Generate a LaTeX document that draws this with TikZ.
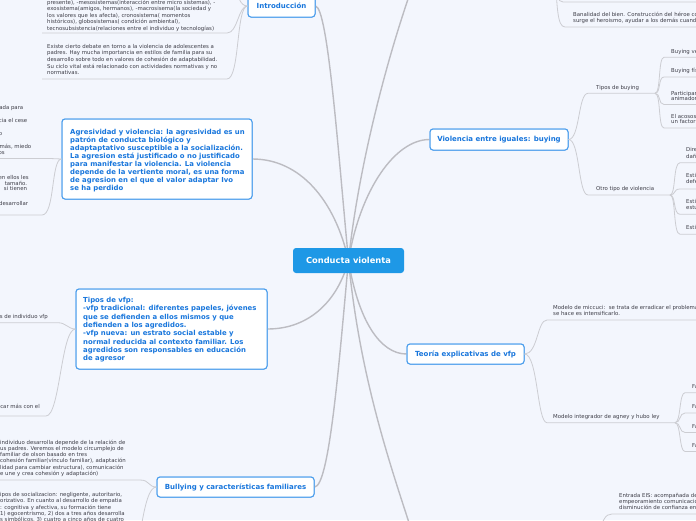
\documentclass[tikz,border=0pt]{standalone}
\usepackage{fontspec}
\setmainfont{DejaVu Sans}
\definecolor{bg}{RGB}{243,246,253}
\definecolor{mainline}{RGB}{188,188,194}
\definecolor{connline}{RGB}{204,205,210}
\definecolor{topicblue}{RGB}{24,118,220}
\definecolor{topicborder}{RGB}{72,156,236}
\definecolor{centerblue}{RGB}{30,152,230}
\definecolor{childtext}{RGB}{62,62,72}
\tikzset{
  topic/.style={draw=topicborder, line width=1pt, fill=white, rounded corners=3pt, inner sep=0pt},
  topictext/.style={text=topicblue, font=\fontsize{7}{8.3}\selectfont\bfseries, inner sep=0pt},
  bigtext/.style={text=topicblue, font=\fontsize{6.9}{8.0}\selectfont\bfseries, inner sep=0pt, align=left, anchor=base west},
  ctext/.style={text=childtext, font=\fontsize{5.4}{6.4}\selectfont, inner sep=0pt, align=left, anchor=base west},
  frag/.style={text=childtext, font=\fontsize{5.4}{6.4}\selectfont, inner sep=0pt, anchor=base east},
  mainconn/.style={draw=mainline, line width=1.4pt},
  conn/.style={draw=connline, line width=0.8pt},
}
\begin{document}
\begin{tikzpicture}[x=1pt,y=-1pt]
\clip (0,0) rectangle (696,520);
\fill[bg] (0,0) rectangle (696,520);

% ---------- topic boxes (positions) ----------
\coordinate (cc) at (348.5,260.5);
\node[topic, minimum width=67pt, minimum height=22pt] (intro) at (281.5,6) {};
\node[topic, minimum width=190pt, minimum height=80pt] (agres) at (157,159) {};
\node[topic, minimum width=191pt, minimum height=80pt] (vfp) at (171.5,329) {};
\node[topic, minimum width=157pt, minimum height=20pt] (bully) at (235.5,487) {};
\node[topic, minimum width=138pt, minimum height=21pt] (viol) at (499,139.5) {};
\node[topic, minimum width=117pt, minimum height=20pt] (teoria) at (465.5,354) {};
\coordinate (topoff) at (414,-18);
\coordinate (botoff) at (414,538);

% ---------- main connectors ----------
\draw[mainconn] (intro.east) .. controls (328,8) and (338,150) .. (cc);
\draw[mainconn] (cc) .. controls (358,170) and (386,60) .. (topoff);
\draw[mainconn] (agres.east) .. controls (300,159) and (335,200) .. (cc);
\draw[mainconn] (viol.west) .. controls (395,139.5) and (360,190) .. (cc);
\draw[mainconn] (vfp.east) .. controls (310,329) and (338,300) .. (cc);
\draw[mainconn] (bully.east) .. controls (330,487) and (340,350) .. (cc);
\draw[mainconn] (teoria.west) .. controls (380,354) and (358,320) .. (cc);
\draw[mainconn] (cc) .. controls (360,380) and (392,470) .. (botoff);

% redraw boxes over lines
\node[topic, minimum width=67pt, minimum height=22pt] (introb) at (intro) {};
\node[topic, minimum width=190pt, minimum height=80pt] (agresb) at (agres) {};
\node[topic, minimum width=191pt, minimum height=80pt] (vfpb) at (vfp) {};
\node[topic, minimum width=157pt, minimum height=20pt] (bullyb) at (bully) {};
\node[topic, minimum width=138pt, minimum height=21pt] (violb) at (viol) {};
\node[topic, minimum width=117pt, minimum height=20pt] (teoriab) at (teoria) {};

% center
\node[fill=centerblue, rounded corners=3pt, minimum width=111pt, minimum height=25pt, inner sep=0pt,
      text=white, font=\fontsize{8.3}{10}\selectfont\bfseries] (center) at (cc) {Conducta violenta};

% topic texts
\node[topictext] (introt) at (intro) {Introducción};
\node[topictext] (bullyt) at (bully) {Bullying y características familiares};
\node[topictext] (violt) at (viol) {Violencia entre iguales: buying};
\node[topictext] (teoriat) at (teoria) {Teoría explicativas de vfp};
\node[bigtext] (agrest) at (70,190.5) {Agresividad y violencia: la agresividad es un\\
patrón de conducta biológico y\\
adaptaptativo susceptible a la socialización.\\
La agresion está justificado o no justificado\\
para manifestar la violencia. La violencia\\
depende de la vertiente moral, es una forma\\
de agresion en el que el valor adaptar Ivo\\
se ha perdido};
\node[bigtext, font=\fontsize{6.9}{8.3}\selectfont\bfseries] (vfpt) at (83,360.6) {Tipos de vfp:\\
-vfp tradicional: diferentes papeles, jóvenes\\
que se defienden a ellos mismos y que\\
defienden a los agredidos.\\
-vfp nueva: un estrato social estable y\\
normal reducida al contexto familiar. Los\\
agredidos son responsables en educación\\
de agresor};

% ---------- Introducción children ----------
\node[ctext, font=\fontsize{5.4}{6.6}\selectfont] (i1) at (47,30.5) {presente), -mesosistemas(interacción entre micro sistemas), -\\
exosistema(amigos, hermanos), -macrosisema(la sociedad y\\
los valores que les afecta), cronosistema( momentos\\
históricos), globosistemas( condición ambiental),\\
tecnosubsistencia(relaciones entre el individuo y tecnologías)};
\node[ctext, font=\fontsize{5.4}{6.65}\selectfont] (i2) at (47,74.7) {Existe cierto debate en torno a la violencia de adolescentes a\\
padres. Hay mucha importancia en estilos de familia para su\\
desarrollo sobre todo en valores de cohesión de adaptabilidad.\\
Su ciclo vital está relacionado con actividades normativas y no\\
normativas.};
\coordinate (i1l) at (42,33); \coordinate (i1r) at (227,33);
\coordinate (i2l) at (42,79); \coordinate (i2r) at (227,79);
\coordinate (i0) at (236,-12);
\draw[conn] (i1l) -- (i1r) .. controls (238,33) and (238,6) .. (intro.west);
\draw[conn] (i2l) -- (i2r) .. controls (240,79) and (236,6) .. (intro.west);
\draw[conn] (intro.west) .. controls (240,6) and (238,-4) .. (i0);

% ---------- Agresividad children ----------
\node[frag] (a1) at (23.5,109.7) {ada para};
\node[frag] (a2) at (27.5,122.4) {cia el cese};
\node[frag] (a3) at (2.3,135.4) {o};
\node[frag] (a4) at (31.5,148.1) {emás, miedo};
\node[frag] (a5) at (5,154.4) {os};
\coordinate (a1l) at (-2,158.5); \coordinate (a1r) at (50,158.5);
\draw[conn] (a1l) -- (a1r) .. controls (56,158.5) and (56,159) .. (agres.west);
\node[frag] (b1) at (29,179.7) {en ellos les};
\node[frag] (b2) at (27.3,185.4) {tamaño.};
\node[frag] (b3) at (27.3,190.7) {si tienen};
\node[frag] (b4) at (28.3,205.7) {desarrollar};
\coordinate (b1l) at (-2,215); \coordinate (b1r) at (42,215);
\draw[conn] (b1l) -- (b1r) .. controls (55,215) and (51,159) .. (agres.west);

% ---------- Tipos de vfp children ----------
\node[frag] (v1) at (48,318.7) {s de individuo vfp};
\coordinate (v1l) at (-2,322.7); \coordinate (v1r) at (58,322.7);
\draw[conn] (v1l) -- (v1r) .. controls (66,322.7) and (68,329) .. (vfp.west);
\node[frag] (v2) at (40,408.7) {car más con el};
\coordinate (v2l) at (-2,416); \coordinate (v2r) at (46,416);
\draw[conn] (v2l) -- (v2r) .. controls (60,416) and (61,329) .. (vfp.west);

% ---------- Bullying children ----------
\node[ctext, font=\fontsize{5.4}{6.3}\selectfont] (u1) at (0,475.5) {individuo desarrolla depende de la relación de\\
us padres. Veremos el modelo circumplejo de\\
familiar de olson basado en tres\\
cohesión familiar(vínculo familiar), adaptación\\
lidad para cambiar estructura), comunicación\\
e une y crea cohesión y adaptación)};
\coordinate (u1l) at (-2,480); \coordinate (u1r) at (140,480);
\draw[conn] (u1l) -- (u1r) .. controls (150,480) and (148,487) .. (bully.west);
\node[ctext, font=\fontsize{5.4}{6.3}\selectfont] (u2) at (0,521.6) {ipos de socializacion: negligente, autoritario,\\
orizativo. En cuanto al desarrollo de empatia\\
: cognitiva y afectiva, su formación tiene\\
1) egocentrismo, 2) dos a tres años desarrolla\\
s simbólicos, 3) cuatro a cinco años de cuatro};
\coordinate (u2e) at (141,528);
\draw[conn] (bully.west) .. controls (149,487) and (145,505) .. (u2e);

% ---------- Violencia entre iguales children ----------
\node[ctext] (tb) at (596,89.7) {Tipos de buying};
\coordinate (tbl) at (588,93.3); \coordinate (tbr) at (655,93.3);
\draw[conn] (viol.east) .. controls (580,139.5) and (578,93.3) .. (tbl) -- (tbr);
\node[ctext] (ot) at (596,190.4) {Otro tipo de violencia};
\coordinate (otl) at (588,195); \coordinate (otr) at (670,195);
\draw[conn] (viol.east) .. controls (580,139.5) and (578,195) .. (otl) -- (otr);

\node[ctext] (tb1) at (671,53.7) {Buying verbal};
\node[ctext] (tb2) at (671,72.4) {Buying físico};
\node[ctext, font=\fontsize{5.4}{5.4}\selectfont] (tb3) at (671,100.8) {Participantes\\animadores};
\node[ctext, font=\fontsize{5.4}{5.6}\selectfont] (tb4) at (671,123.7) {El acosos escolar\\un factor de};
\foreach \yy [count=\k] in {57.3,77,104.5,128}{
  \coordinate (tbc\k) at (664,\yy);
  \draw[conn] (tbr) .. controls (661,93.3) and (658,\yy) .. (tbc\k) -- (700,\yy);
}
\node[ctext, font=\fontsize{5.4}{7.3}\selectfont] (ot1) at (686,158.7) {Directa\\daño};
\node[ctext, font=\fontsize{5.4}{5.7}\selectfont] (ot2) at (686,183.1) {Estilo\\defensa};
\node[ctext, font=\fontsize{5.4}{6.4}\selectfont] (ot3) at (686,209.4) {Estilo\\estudiante};
\node[ctext] (ot4) at (686,229) {Estilo};
\foreach \yy [count=\k] in {162.7,189,214.3,234.3}{
  \coordinate (otc\k) at (680,\yy);
  \draw[conn] (otr) .. controls (676,195) and (673,\yy) .. (otc\k) -- (700,\yy);
}

% ---------- Teoría children ----------
\node[ctext, font=\fontsize{5.4}{6.7}\selectfont] (t1) at (553,315.7) {Modelo de miccuci:\ \ se trata de erradicar el problema\\
se hace es intensificarlo.};
\coordinate (t1l) at (547,320);
\draw[conn] (teoria.east) .. controls (538,354) and (537,320) .. (t1l) -- (700,320);
\node[ctext] (t2) at (553,418.7) {Modelo integrador de agney y hubo ley};
\coordinate (t2l) at (547,422.7); \coordinate (t2r) at (675,422.7);
\draw[conn] (teoria.east) .. controls (538,354) and (537,422.7) .. (t2l) -- (t2r);
\foreach \yy/\by [count=\k] in {392.7/388.4,413/408.4,432.5/428.4,451.5/447.4}{
  \node[ctext] (tf\k) at (692,\by) {Factor};
  \coordinate (tfc\k) at (685,\yy);
  \draw[conn] (t2r) .. controls (681,422.7) and (679,\yy) .. (tfc\k) -- (700,\yy);
}

% ---------- top-right (hidden branch) ----------
\node[ctext, font=\fontsize{5.4}{6}\selectfont] (h1) at (573,22.4) {Banalidad del bien. Construcción del héroe como\\
surge el heroismo, ayudar a los demás cuando};
\coordinate (hsrc) at (555,-30);
\coordinate (h1l) at (565,27); \coordinate (h0l) at (563,2);
\draw[conn] (hsrc) .. controls (557,5) and (557,27) .. (h1l) -- (700,27);
\draw[conn] (hsrc) .. controls (557,-5) and (557,2) .. (h0l) -- (700,2);

% ---------- bottom-right (hidden branch) ----------
\node[ctext, font=\fontsize{5.4}{5.85}\selectfont] (e1) at (619,509.1) {Entrada EIS: acompañada de\\
empeoramiento comunicación\\
disminución de confianza en};
\coordinate (e1l) at (612,514); \coordinate (esrc) at (598,535);
\draw[conn] (esrc) .. controls (603,520) and (605,514) .. (e1l) -- (700,514);
\end{tikzpicture}
\end{document}
